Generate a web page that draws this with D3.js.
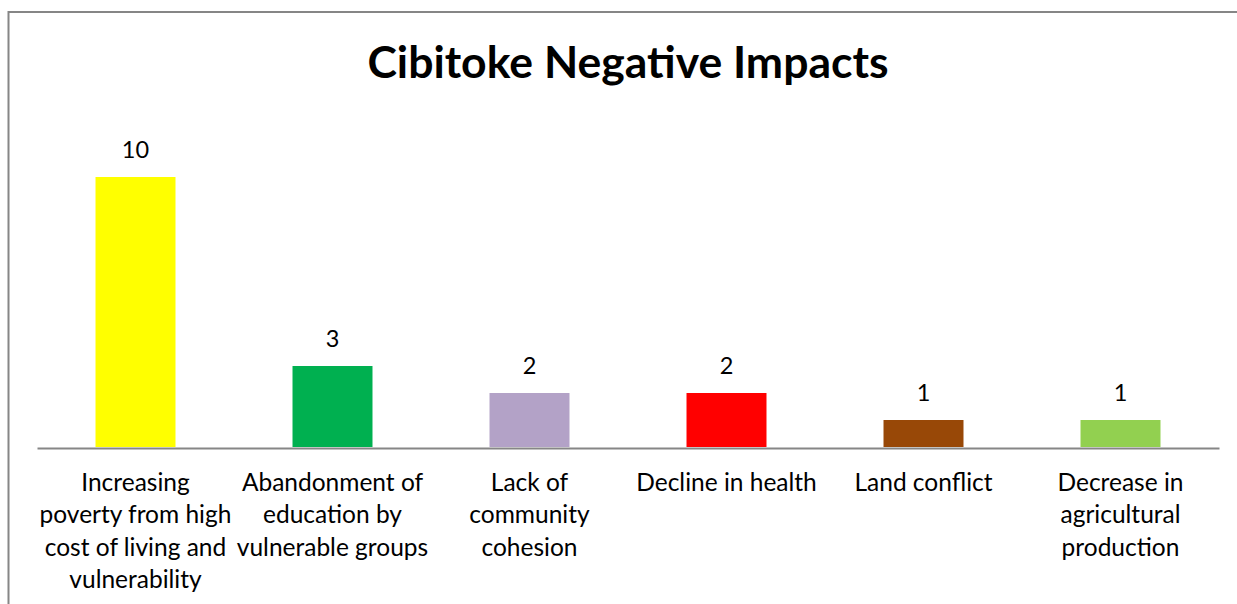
<!DOCTYPE html>
<html>
<head>
<meta charset="utf-8">
<script src="https://cdn.jsdelivr.net/npm/d3@7"></script>
<style>
  html, body { margin: 0; padding: 0; background: #fff; }
  svg { display: block; }
  text { font-family: Lato, "Open Sans", sans-serif; fill: #000; }
</style>
</head>
<body>
<svg id="chart" width="1237" height="604"></svg>
<script>
// Chart content
const title = "Cibitoke Negative Impacts";
const categories = [
  ["Increasing", "poverty from high", "cost of living and", "vulnerability"],
  ["Abandonment of", "education by", "vulnerable groups"],
  ["Lack of", "community", "cohesion"],
  ["Decline in health"],
  ["Land conflict"],
  ["Decrease in", "agricultural", "production"]
];
const values = [10, 3, 2, 2, 1, 1];
const colors = ["#FFFF00", "#00B050", "#B3A2C7", "#FF0000", "#984807", "#92D050"];

const W = 1237, H = 604;
const plot = { left: 37, right: 1219, base: 447, top: 123 };

const svg = d3.select("#chart");

// outer chart frame (continues past the window edges)
svg.append("rect")
  .attr("x", 8.5).attr("y", 12)
  .attr("width", W + 20).attr("height", H + 20)
  .attr("fill", "none")
  .attr("stroke", "#868686")
  .attr("stroke-width", 2);

svg.append("text")
  .attr("x", 628).attr("y", 78)
  .attr("text-anchor", "middle")
  .style("font-weight", "bold")
  .style("font-size", "44.5px")
  .text(title);

const idx = d3.range(values.length);
const x = d3.scaleBand()
  .domain(idx)
  .range([plot.left, plot.right])
  .paddingInner(0.594)
  .paddingOuter(0.297);

const y = d3.scaleLinear()
  .domain([0, 12])
  .range([plot.base, plot.base - 27 * 12]);

svg.selectAll("rect.bar")
  .data(idx)
  .join("rect")
  .attr("class", "bar")
  .attr("x", i => x(i))
  .attr("width", x.bandwidth())
  .attr("y", i => y(values[i]))
  .attr("height", i => y(0) - y(values[i]))
  .attr("fill", i => colors[i]);

// value labels above bars
svg.selectAll("text.val")
  .data(idx)
  .join("text")
  .attr("class", "val")
  .attr("x", i => x(i) + x.bandwidth() / 2)
  .attr("y", i => y(values[i]) - 19)
  .attr("text-anchor", "middle")
  .style("font-size", "23.5px")
  .text(i => values[i]);

// category axis
const axis = svg.append("g")
  .attr("transform", `translate(0,${plot.base + 1})`)
  .call(d3.axisBottom(x).tickSize(0).tickFormat(""));
axis.select(".domain").attr("stroke", "#868686").attr("stroke-width", 2);

const lab = svg.selectAll("text.cat")
  .data(idx)
  .join("text")
  .attr("class", "cat")
  .attr("text-anchor", "middle")
  .style("font-size", "24.5px");
lab.each(function(i) {
  const t = d3.select(this);
  categories[i].forEach((line, k) => {
    t.append("tspan")
      .attr("x", x(i) + x.bandwidth() / 2)
      .attr("y", 491 + k * 32.4)
      .text(line);
  });
});
</script>
</body>
</html>
